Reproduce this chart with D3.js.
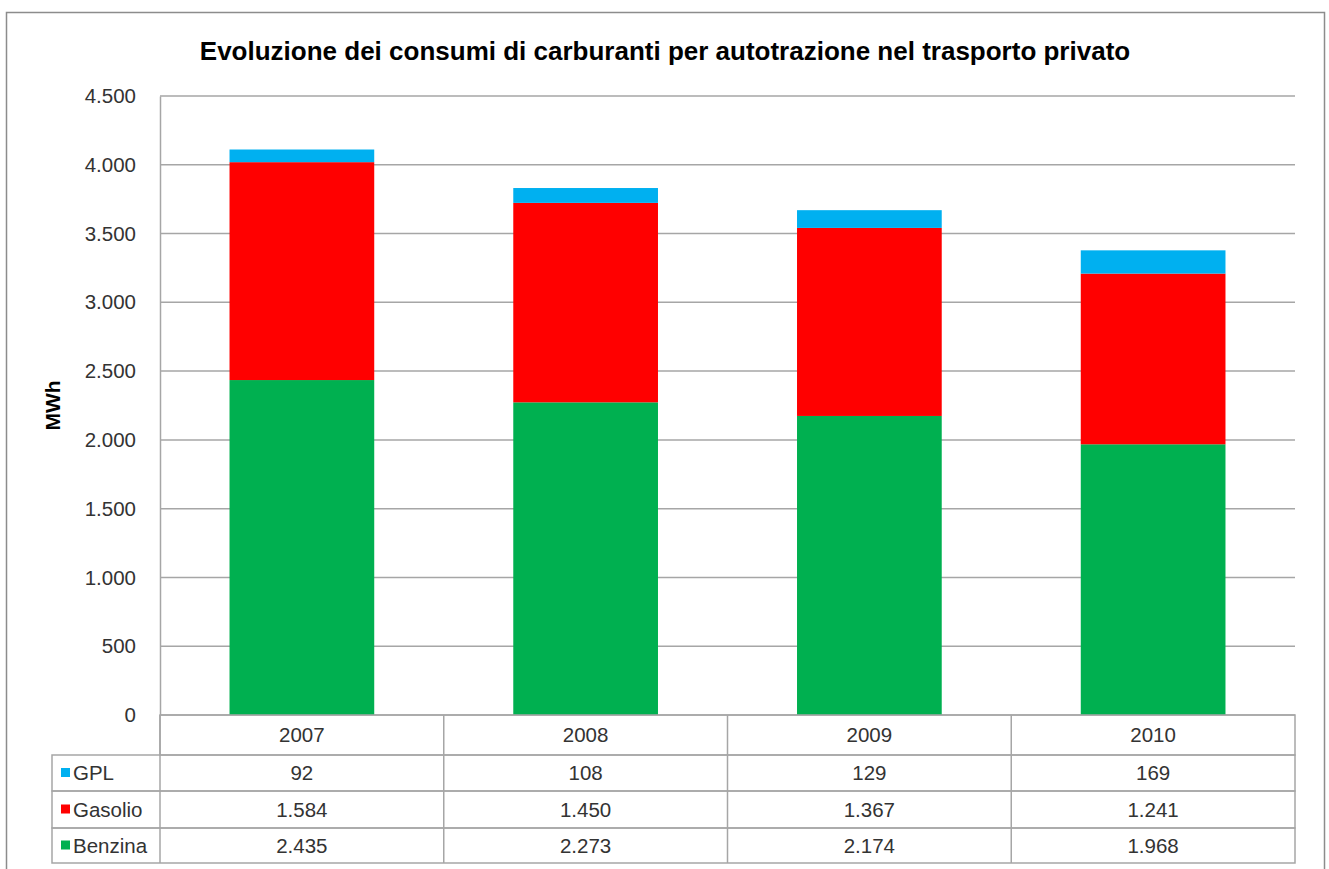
<!DOCTYPE html>
<html>
<head>
<meta charset="utf-8">
<script src="https://cdn.jsdelivr.net/npm/d3@7"></script>
<style>
  html, body { margin: 0; padding: 0; background: #fff; }
  svg { display: block; font-family: "Liberation Sans", Arial, sans-serif; }
</style>
</head>
<body>
<svg id="chart" width="1329" height="869"></svg>
<script>
// Years shown on the category axis / table header
const years = ["2007", "2008", "2009", "2010"];
// Fuel consumption per year (MWh)
const gpl = [92, 108, 129, 169];
const gasolio = [1584, 1450, 1367, 1241];
const benzina = [2435, 2273, 2174, 1968];
// Value axis ticks
const yTicks = [0, 500, 1000, 1500, 2000, 2500, 3000, 3500, 4000, 4500];

const title = "Evoluzione dei consumi di carburanti per autotrazione nel trasporto privato";
const yLabel = "MWh";

// Series in stacking order (bottom to top) and table order (top to bottom)
const series = [
  { name: "Benzina", values: benzina, color: "#00B050" },
  { name: "Gasolio", values: gasolio, color: "#FF0000" },
  { name: "GPL", values: gpl, color: "#00B0F0" }
];
const tableOrder = ["GPL", "Gasolio", "Benzina"];

const it = d3.formatLocale({ decimal: ",", thousands: ".", grouping: [3], currency: ["", " €"] });
const fmt = it.format(",d");

const svg = d3.select("#chart");
const plot = { left: 160, right: 1295, top: 96, bottom: 715 };
const textColor = "#333";
const gridColor = "#a6a6a6";

// Outer frame
svg.append("rect")
  .attr("x", 6.5).attr("y", 12.5)
  .attr("width", 1318).attr("height", 880)
  .attr("fill", "none").attr("stroke", "#8c8c8c").attr("stroke-width", 1.5);

// Title
svg.append("text")
  .attr("x", 665).attr("y", 60)
  .attr("text-anchor", "middle")
  .attr("font-weight", "bold")
  .attr("font-size", 26)
  .attr("fill", "#000")
  .text(title);

// Scales
const x = d3.scaleBand().domain(years).range([plot.left, plot.right]).paddingInner(0.49).paddingOuter(0.245);
const xCol = d3.scaleBand().domain(years).range([plot.left, plot.right]);
const y = d3.scaleLinear().domain([0, 4500]).range([plot.bottom, plot.top]);

// Gridlines
svg.append("g")
  .selectAll("line")
  .data(yTicks)
  .join("line")
  .attr("x1", plot.left).attr("x2", plot.right)
  .attr("y1", d => y(d)).attr("y2", d => y(d))
  .attr("stroke", gridColor).attr("stroke-width", 1.5);

// Value axis
const yAxis = d3.axisLeft(y).tickValues(yTicks).tickFormat(fmt).tickSize(0).tickPadding(24);
const yg = svg.append("g").attr("transform", `translate(${plot.left},0)`).call(yAxis);
yg.select(".domain").attr("stroke", gridColor).attr("stroke-width", 1.5);
yg.selectAll("text")
  .attr("font-size", 20.5)
  .attr("font-family", "Liberation Sans, Arial, sans-serif")
  .attr("fill", textColor);

// Axis title
svg.append("text")
  .attr("transform", `translate(60,${(plot.top + plot.bottom) / 2}) rotate(-90)`)
  .attr("text-anchor", "middle")
  .attr("font-weight", "bold")
  .attr("font-size", 21)
  .attr("fill", "#000")
  .text(yLabel);

// Stacked bars
const rows = years.map((yr, i) => {
  const r = { year: yr };
  series.forEach(s => { r[s.name] = s.values[i]; });
  return r;
});
const stack = d3.stack().keys(series.map(s => s.name))(rows);
svg.append("g")
  .selectAll("g")
  .data(stack)
  .join("g")
  .attr("fill", (d, i) => series[i].color)
  .selectAll("rect")
  .data(d => d)
  .join("rect")
  .attr("x", d => x(d.data.year))
  .attr("width", x.bandwidth())
  .attr("y", d => y(d[1]))
  .attr("height", d => y(d[0]) - y(d[1]));

// Data table below the plot
const tableTop = plot.bottom;
const rowEdges = [tableTop, 755, 791, 828, 863];
const tableLeft = 52;
const lineColor = "#a6a6a6";
const tg = svg.append("g");

// Header row (years)
tg.append("rect")
  .attr("x", plot.left).attr("y", rowEdges[0])
  .attr("width", plot.right - plot.left).attr("height", rowEdges[1] - rowEdges[0])
  .attr("fill", "none").attr("stroke", lineColor).attr("stroke-width", 1.5);
tg.selectAll(".yr")
  .data(years)
  .join("text")
  .attr("x", d => xCol(d) + xCol.bandwidth() / 2)
  .attr("y", (rowEdges[0] + rowEdges[1]) / 2 + 7)
  .attr("text-anchor", "middle")
  .attr("font-size", 20.5)
  .attr("fill", textColor)
  .text(d => d);

// Column separators through header and body
tg.selectAll(".sep")
  .data(years.slice(1))
  .join("line")
  .attr("x1", d => xCol(d)).attr("x2", d => xCol(d))
  .attr("y1", rowEdges[0]).attr("y2", rowEdges[4])
  .attr("stroke", lineColor).attr("stroke-width", 1.5);

// Body rows
tableOrder.forEach((name, r) => {
  const s = series.find(d => d.name === name);
  const top = rowEdges[r + 1], bot = rowEdges[r + 2];
  const cy = (top + bot) / 2;
  tg.append("rect")
    .attr("x", tableLeft).attr("y", top)
    .attr("width", plot.right - tableLeft).attr("height", bot - top)
    .attr("fill", "none").attr("stroke", lineColor).attr("stroke-width", 1.5);
  tg.append("rect")
    .attr("x", 61).attr("y", cy - 5)
    .attr("width", 9).attr("height", 9)
    .attr("fill", s.color);
  tg.append("text")
    .attr("x", 73).attr("y", cy + 7)
    .attr("font-size", 20.5)
    .attr("fill", textColor)
    .text(name);
  tg.selectAll(null)
    .data(s.values)
    .join("text")
    .attr("x", (d, i) => xCol(years[i]) + xCol.bandwidth() / 2)
    .attr("y", cy + 7)
    .attr("text-anchor", "middle")
    .attr("font-size", 20.5)
    .attr("fill", textColor)
    .text(d => fmt(d));
});
// Legend column divider
tg.append("line")
  .attr("x1", plot.left).attr("x2", plot.left)
  .attr("y1", rowEdges[0]).attr("y2", rowEdges[4])
  .attr("stroke", lineColor).attr("stroke-width", 1.5);
</script>
</body>
</html>
